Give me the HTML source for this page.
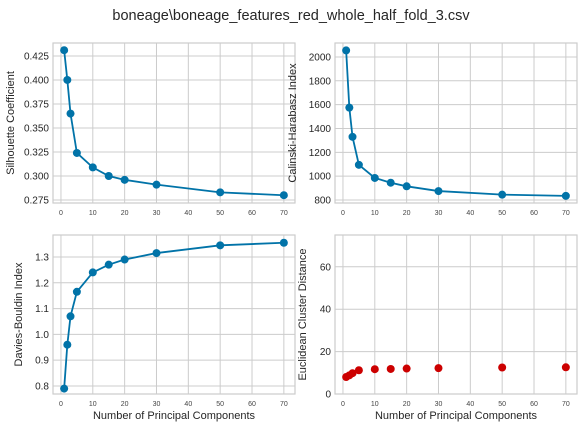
<!DOCTYPE html>
<html><head><meta charset="utf-8"><style>
body{margin:0;background:#fff;font-family:"Liberation Sans",sans-serif}
svg{display:block}
</style></head><body>
<svg id="c" width="582" height="428" xmlns="http://www.w3.org/2000/svg">
<text x="291" y="20" text-anchor="middle" font-size="14.5" fill="#262626">boneage\boneage_features_red_whole_half_fold_3.csv</text>
</svg>
<script>
const components=[1,2,3,5,10,15,20,30,50,70];
const silhouette=[0.431,0.400,0.365,0.324,0.309,0.300,0.296,0.291,0.283,0.280];
const calinski=[2055,1575,1330,1095,985,945,915,875,845,835];
const davies=[0.79,0.96,1.07,1.165,1.24,1.27,1.29,1.315,1.345,1.355];
const euclid=[8,8.8,9.8,11.2,11.7,11.8,12,12.2,12.5,12.6];
const xTicks=[0,10,20,30,40,50,60,70];
const silTicks=[0.275,0.300,0.325,0.350,0.375,0.400,0.425];
const calTicks=[800,1000,1200,1400,1600,1800,2000];
const dbTicks=[0.8,0.9,1.0,1.1,1.2,1.3];
const euTicks=[0,20,40,60];
const NS="http://www.w3.org/2000/svg";
const svg=document.getElementById('c');
function el(t,a,p){const e=document.createElementNS(NS,t);for(const k in a)e.setAttribute(k,a[k]);(p||svg).appendChild(e);return e;}
function panel(o){
  const g=el('g',{});
  
  
  const xs=v=>o.x0+(v-(-2.5))/(73.5-(-2.5))*(o.x1-o.x0);
  const ys=v=>o.y1-(v-o.ymin)/(o.ymax-o.ymin)*(o.y1-o.y0);
  xTicks.forEach(t=>{
    const l=el('line',{x1:xs(t),x2:xs(t),y1:o.y0,y2:o.y1,stroke:'#cccccc','stroke-width':1},g);
    
    
    const tx=el('text',{x:xs(t),y:o.y1+12,'text-anchor':'middle','font-size':7,fill:'#444'},g);
    tx.textContent=t;
    
    
  });
  o.ticks.forEach(t=>{
    const l=el('line',{x1:o.x0,x2:o.x1,y1:ys(t),y2:ys(t),stroke:'#cccccc','stroke-width':1},g);
    
    
    const tx=el('text',{x:o.x0-4,y:ys(t)+3.5,'text-anchor':'end','font-size':10,fill:'#262626'},g);
    tx.textContent=o.fmt(t);
    
    
  });
  const fr=el('rect',{x:o.x0,y:o.y0,width:o.x1-o.x0,height:o.y1-o.y0,fill:'none',stroke:'#cccccc','stroke-width':1.2},g);
  
  
  if(o.line){
    const pl=el('polyline',{points:components.map((c,i)=>xs(c)+','+ys(o.vals[i])).join(' '),fill:'none',stroke:o.color,'stroke-width':1.8},g);
    
    
  }
  components.forEach((c,i)=>{
    const p=el('circle',{cx:xs(c),cy:ys(o.vals[i]),r:4,fill:o.color},g);
    
    
  });
  const yl=el('text',{x:0,y:0,'text-anchor':'middle','font-size':11,fill:'#262626',transform:`translate(${o.ylx},${(o.y0+o.y1)/2}) rotate(-90)`},g);
  yl.textContent=o.ylabel;
  
  
  if(o.xlabel){
    const xl=el('text',{x:(o.x0+o.x1)/2,y:o.y1+25,'text-anchor':'middle','font-size':11,fill:'#262626'},g);
    xl.textContent=o.xlabel;
    
    
  }
}
const blue='#0173a8',red='#cc0000';
panel({name:'silhouette-panel',x0:53,x1:295,y0:43,y1:203,ymin:0.2719,ymax:0.4385,ticks:silTicks,fmt:t=>t.toFixed(3),vals:silhouette,color:blue,line:true,ylabel:'Silhouette Coefficient',ylx:14});
panel({name:'calinski-panel',x0:335,x1:577,y0:43,y1:203,ymin:775,ymax:2117,ticks:calTicks,fmt:t=>t,vals:calinski,color:blue,line:true,ylabel:'Calinski-Harabasz Index',ylx:296});
panel({name:'davies-panel',x0:53,x1:295,y0:235,y1:394,ymin:0.769,ymax:1.385,ticks:dbTicks,fmt:t=>t.toFixed(1),vals:davies,color:blue,line:true,ylabel:'Davies-Bouldin Index',ylx:22,xlabel:'Number of Principal Components'});
panel({name:'euclidean-panel',x0:335,x1:577,y0:235,y1:394,ymin:0,ymax:75,ticks:euTicks,fmt:t=>t,vals:euclid,color:red,line:false,ylabel:'Euclidean Cluster Distance',ylx:306,xlabel:'Number of Principal Components'});
</script>
</body></html>
